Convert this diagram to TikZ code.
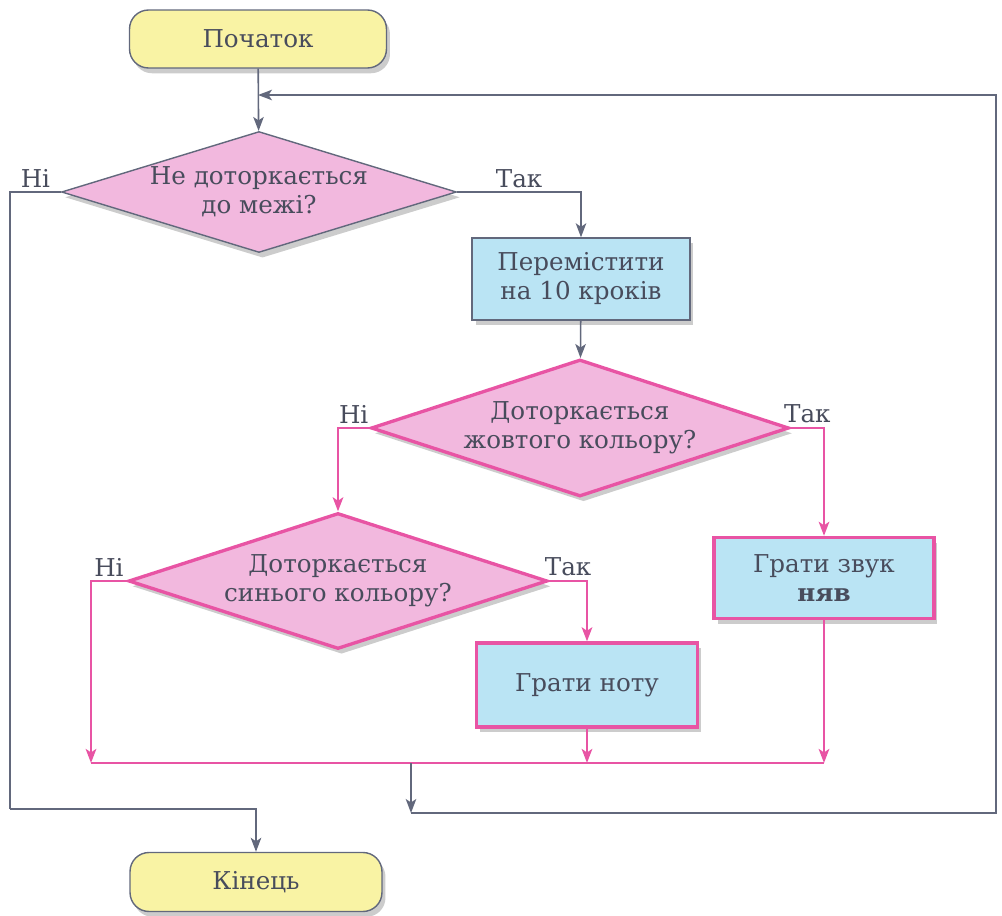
\documentclass[tikz,border=0pt]{standalone}
\usepackage{fontspec}
\setmainfont{DejaVu Serif}
\usetikzlibrary{arrows.meta,shapes.geometric,shadows}
\definecolor{ink}{RGB}{72,76,92}
\definecolor{grayline}{RGB}{98,104,124}
\definecolor{pinkline}{RGB}{232,84,164}
\definecolor{termfill}{RGB}{249,243,164}
\definecolor{pinkfill}{RGB}{242,184,222}
\definecolor{bluefill}{RGB}{186,228,244}
\tikzset{
  base/.style={align=center, text=ink, font=\fontsize{14}{16.5}\selectfont,
    drop shadow={shadow xshift=2pt, shadow yshift=-3pt, fill=black, opacity=0.2}},
  term/.style={base, rounded corners=0.38cm, draw=grayline, line width=0.8pt, fill=termfill},
  ask/.style={base, diamond, aspect=3.2, inner sep=-6pt, fill=pinkfill},
  act/.style={base, rectangle, fill=bluefill},
  gline/.style={draw=grayline, line width=0.9pt},
  pline/.style={draw=pinkline, line width=1.6pt},
  lbl/.style={text=ink, font=\fontsize{14}{16.5}\selectfont, inner sep=2pt},
  >={Stealth[length=2.8mm, width=2.1mm, inset=0.7mm]}
}
\begin{document}
\begin{tikzpicture}[x=0.02cm, y=-0.02cm]
\useasboundingbox (0,0) rectangle (1002,916);
\node[term, minimum width=5.14cm, minimum height=1.16cm] (start) at (258,39) {Початок};
\node[ask, draw=grayline, line width=0.8pt, minimum width=7.9cm, minimum height=2.42cm] (touchedge) at (259,192)
  {Не доторкається\\до межі?};
\node[act, draw=grayline, line width=0.8pt, minimum width=4.36cm, minimum height=1.64cm] (move) at (581,279)
  {Перемістити\\на 10 кроків};
\node[ask, draw=pinkline, line width=1.9pt, minimum width=8.36cm, minimum height=2.74cm] (yellow) at (580,428)
  {Доторкається\\жовтого кольору?};
\node[act, draw=pinkline, line width=1.9pt, minimum width=4.4cm, minimum height=1.62cm] (meow) at (824,578)
  {Грати звук\\\textbf{няв}};
\node[ask, draw=pinkline, line width=1.9pt, minimum width=8.38cm, minimum height=2.72cm] (blue) at (338,581)
  {Доторкається\\синього кольору?};
\node[act, draw=pinkline, line width=1.9pt, minimum width=4.42cm, minimum height=1.68cm] (note) at (587,685)
  {Грати ноту};
\node[term, minimum width=5.04cm, minimum height=1.18cm] (end) at (256,882) {Кінець};

\coordinate (noturn) at (10,809);
\coordinate (mergeleft) at (91,763);
\coordinate (mergeright) at (824,763);
\coordinate (join) at (411,763);
\coordinate (loopa) at (411,813);
\coordinate (loopb) at (996,95);
\coordinate (loopin) at (258,95);

\draw[gline, ->] (start) -- (touchedge);
\draw[gline, ->] (touchedge.east) -| (move.north) node[lbl, pos=0.25, above] {Так};
\draw[gline] (touchedge.west) -| (noturn) node[lbl, pos=0.25, above] {Ні};
\draw[gline, ->] (noturn) -| (end.north);
\draw[gline, ->] (move) -- (yellow);
\draw[pline, ->] (yellow.west) -| (blue.north) node[lbl, pos=0.25, above] {Ні};
\draw[pline, ->] (yellow.east) -| (meow.north) node[lbl, pos=0.25, above] {Так};
\draw[pline, ->] (blue.west) -| (mergeleft) node[lbl, pos=0.25, above] {Ні};
\draw[pline, ->] (blue.east) -| (note.north) node[lbl, pos=0.25, above] {Так};
\draw[pline, ->] (note.south) -- (note.south |- mergeleft);
\draw[pline, ->] (meow.south) -- (mergeright);
\draw[pline] (mergeleft) -- (mergeright);
\draw[gline, ->] (join) -- (loopa);
\draw[gline, ->] (loopa) -| (loopb) -- (loopin);
\end{tikzpicture}
\end{document}
